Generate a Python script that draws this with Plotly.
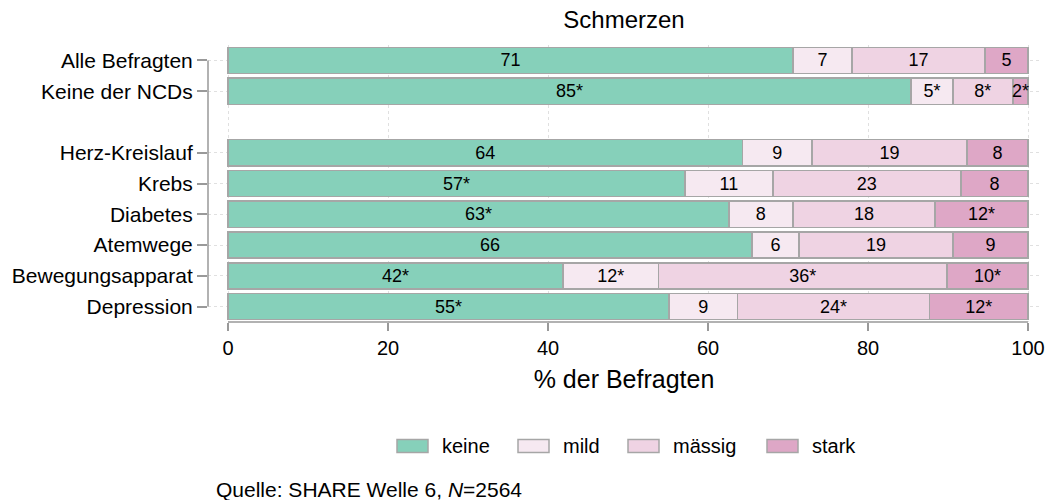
import plotly.graph_objects as go

categories = ["Alle Befragten", "Keine der NCDs", "Herz-Kreislauf", "Krebs",
              "Diabetes", "Atemwege", "Bewegungsapparat", "Depression"]
positions = [0, 1, 3, 4, 5, 6, 7, 8]

keine = [70.6, 85.4, 64.3, 57.1, 62.6, 65.5, 41.9, 55.1]
mild = [7.4, 5.2, 8.7, 11.0, 8.0, 5.9, 11.9, 8.6]
maessig = [16.6, 7.5, 19.4, 23.5, 17.8, 19.2, 36.1, 24.0]
stark = [5.4, 1.9, 7.6, 8.4, 11.6, 9.4, 10.1, 12.3]

keine_lbl = ["71", "85*", "64", "57*", "63*", "66", "42*", "55*"]
mild_lbl = ["7", "5*", "9", "11", "8", "6", "12*", "9"]
maessig_lbl = ["17", "8*", "19", "23", "18", "19", "36*", "24*"]
stark_lbl = ["5", "2*", "8", "8", "12*", "9", "10*", "12*"]

series_names = ["keine", "mild", "mässig", "stark"]
series_colors = ["#86D0BA", "#F6E9F1", "#EFD3E3", "#DEA7C6"]
series_vals = [keine, mild, maessig, stark]
series_lbls = [keine_lbl, mild_lbl, maessig_lbl, stark_lbl]

FONT = "Liberation Sans, Arial, sans-serif"
EDGE = "#A6A6A6"

W, H = 1050, 500
ML, MR, MT, MB = 208, 10, 45, 178
PH = H - MT - MB

fig = go.Figure()
for name, vals, lbls, col in zip(series_names, series_vals, series_lbls, series_colors):
    fig.add_trace(go.Bar(
        y=positions, x=vals, orientation="h", name=name, showlegend=False,
        marker=dict(color=col, line=dict(color=EDGE, width=1.5)),
        text=lbls, textposition="inside", insidetextanchor="middle",
        textfont=dict(color="black", size=18, family=FONT),
        width=0.85, cliponaxis=False, hoverinfo="x+y+name",
    ))

fig.update_layout(
    barmode="stack",
    width=W, height=H,
    margin=dict(l=ML, r=MR, t=MT, b=MB, autoexpand=False),
    paper_bgcolor="white", plot_bgcolor="white",
    font=dict(family=FONT, color="black", size=20),
    uniformtext=dict(minsize=18, mode="show"),
    title=dict(text="Schmerzen", x=0.5, xref="paper", y=0.96, yanchor="middle",
               font=dict(size=24, family=FONT)),
    xaxis=dict(range=[-2.5, 101.5], tickvals=[0, 20, 40, 60, 80, 100],
               ticks="outside", ticklen=8, tickcolor="#999999", tickwidth=1.5,
               showline=False, zeroline=False, automargin=False,
               showgrid=True, gridcolor="#E0E0E0", griddash="dot", gridwidth=1,
               tickfont=dict(size=20),
               title=dict(text="% der Befragten", font=dict(size=25), standoff=12)),
    yaxis=dict(range=[8.5, -0.5], tickvals=positions, ticktext=categories,
               ticks="outside", ticklen=10, tickcolor="#999999", tickwidth=1.5,
               showline=False, zeroline=False, automargin=False,
               showgrid=True, gridcolor="#E0E0E0", griddash="dot", gridwidth=1,
               tickfont=dict(size=21)),
)

# Stata-style axis lines spanning only the tick range
fig.add_shape(type="line", xref="x", yref="paper", x0=0, x1=100, y0=0, y1=0,
              line=dict(color="#999999", width=1.5))
fig.add_shape(type="line", xref="paper", yref="y", x0=0, x1=0, y0=0, y1=8,
              line=dict(color="#999999", width=1.5))

# Legend (Stata-style wide swatches), positioned in pixels below the plot
legend_swatch_left = [397, 518, 628, 767]
sw_w, sw_h, leg_y = 31, 13, 446


def px_x(p):
    return (p - ML) / (W - ML - MR)


def px_y(p):
    return (H - MB - p) / PH


for name, col, lx in zip(series_names, series_colors, legend_swatch_left):
    fig.add_shape(type="rect", xref="paper", yref="paper",
                  x0=px_x(lx), x1=px_x(lx + sw_w),
                  y0=px_y(leg_y + sw_h / 2), y1=px_y(leg_y - sw_h / 2),
                  fillcolor=col, line=dict(color=EDGE, width=1.5))
    fig.add_annotation(text=name, xref="paper", yref="paper",
                       x=px_x(lx + sw_w + 12), y=px_y(leg_y),
                       xanchor="left", yanchor="middle", showarrow=False,
                       font=dict(size=20, family=FONT))

fig.add_annotation(text="Quelle: SHARE Welle 6, <i>N</i>=2564", xref="paper", yref="paper",
                   x=px_x(214), y=px_y(489), xanchor="left", yanchor="middle",
                   showarrow=False, font=dict(size=21, family=FONT))

fig.write_html("out.html", config={"displayModeBar": False},
               post_script="document.body.style.margin='0';")
